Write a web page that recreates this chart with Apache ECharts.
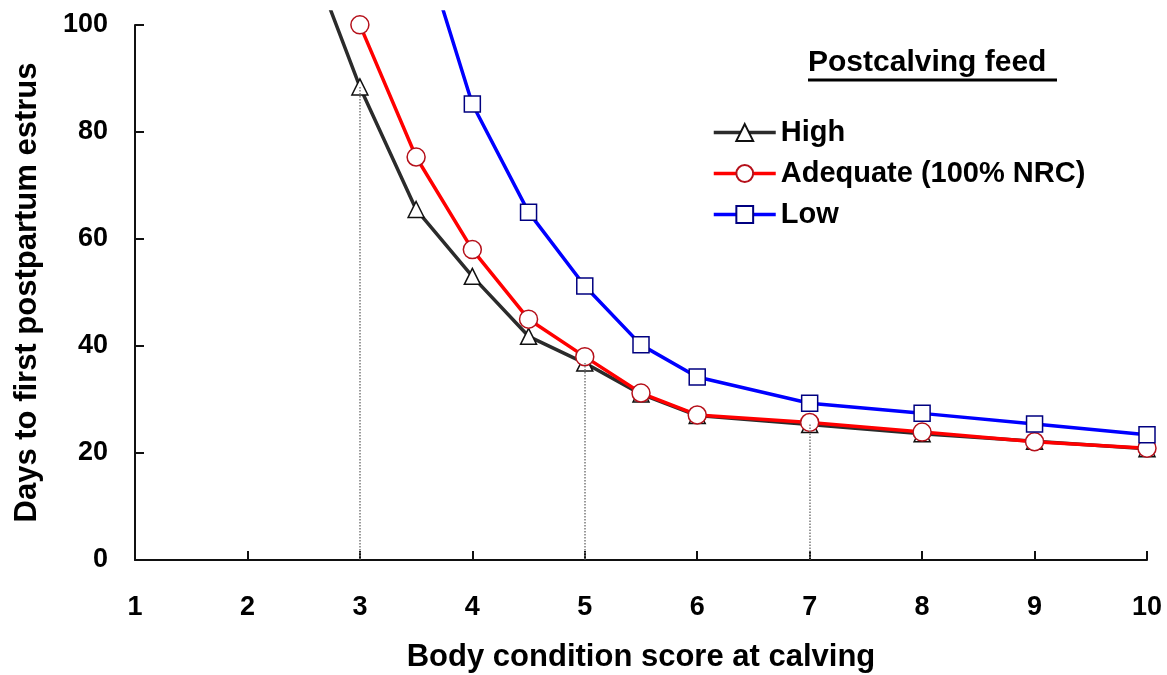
<!DOCTYPE html>
<html>
<head>
<meta charset="utf-8">
<script src="https://cdn.jsdelivr.net/npm/echarts@6/dist/echarts.min.js"></script>
<style>
html,body{margin:0;padding:0;background:#fff;}
#chart{width:1167px;height:675px;}
</style>
</head>
<body>
<div id="chart"></div>
<script>
// Body condition score at calving
var bcs = [2.5, 3, 3.5, 4, 4.5, 5, 5.5, 6, 7, 8, 9, 10];
// Days to first postpartum estrus, by postcalving feed level
var high     = [116, 88.4, 65.5, 53, 41.8, 36.8, 31, 27, 25.3, 23.6, 22.2, 20.8];
var adequate = [null, 100, 75.3, 58, 45, 38, 31.2, 27.1, 25.7, 23.9, 22.1, 20.9];
var low      = [null, null, 119, 85.2, 65, 51.2, 40.2, 34.2, 29.3, 27.4, 25.4, 23.4];
var seriesNames = ['High', 'Adequate (100% NRC)', 'Low'];
var legendTitle = 'Postcalving feed';
var xTitle = 'Body condition score at calving';
var yTitle = 'Days to first postpartum estrus';
var xTicks = [1, 2, 3, 4, 5, 6, 7, 8, 9, 10];
var yTicks = [0, 20, 40, 60, 80, 100];
var dropX = [3, 5, 7];

function pairs(vals) {
  return bcs.map(function (x, i) { return [x, vals[i]]; });
}
var dropLines = dropX.map(function (x) {
  var y = high[bcs.indexOf(x)];
  return [{ coord: [x, y] }, { coord: [x, 0] }];
});

var FONT = '"Liberation Sans", Arial, sans-serif';
var chart = echarts.init(document.getElementById('chart'), null, { renderer: 'canvas' });

var option = {
  animation: false,
  backgroundColor: '#ffffff',
  grid: [
    { left: 135, right: 20, top: 12, bottom: 115, containLabel: false, outerBoundsMode: 'none' },
    { left: 135, right: 20, top: 25, bottom: 115, containLabel: false, outerBoundsMode: 'none' }
  ],
  xAxis: [
    { type: 'value', gridIndex: 0, min: xTicks[0], max: xTicks[xTicks.length - 1], show: false },
    {
      type: 'value', gridIndex: 1, min: xTicks[0], max: xTicks[xTicks.length - 1], interval: 1,
      axisLine: { lineStyle: { color: '#111', width: 2 } },
      axisTick: { inside: true, length: 9, lineStyle: { color: '#111', width: 2 } },
      splitLine: { show: false },
      axisLabel: { color: '#000', fontFamily: FONT, fontWeight: 'bold', fontSize: 27, margin: 34 },
      name: xTitle, nameLocation: 'middle', nameGap: 82,
      nameTextStyle: { color: '#000', fontFamily: FONT, fontWeight: 'bold', fontSize: 31 }
    }
  ],
  yAxis: [
    { type: 'value', gridIndex: 0, min: 0, max: 102.4, show: false },
    {
      type: 'value', gridIndex: 1, min: yTicks[0], max: yTicks[yTicks.length - 1], interval: 20,
      axisLine: { show: true, lineStyle: { color: '#111', width: 2 } },
      axisTick: { show: true, inside: true, length: 9, lineStyle: { color: '#111', width: 2 } },
      splitLine: { show: false },
      axisLabel: { color: '#000', fontFamily: FONT, fontWeight: 'bold', fontSize: 27, margin: 27 },
      name: yTitle, nameLocation: 'middle', nameGap: 92,
      nameTextStyle: { color: '#000', fontFamily: FONT, fontWeight: 'bold', fontSize: 31 }
    }
  ],
  legend: {
    orient: 'vertical', left: 707, top: 112,
    itemWidth: 62, itemHeight: 21, itemGap: 10,
    data: seriesNames,
    lineStyle: { width: 3.5 },
    textStyle: { color: '#000', fontFamily: FONT, fontWeight: 'bold', fontSize: 29, lineHeight: 31 }
  },
  graphic: [
    {
      type: 'text', left: 808, top: 48,
      style: { text: legendTitle, fill: '#000', font: 'bold 30px ' + FONT }
    },
    {
      type: 'line', shape: { x1: 808, y1: 80, x2: 1057, y2: 80 },
      style: { stroke: '#000', lineWidth: 3 }
    }
  ],
  series: [
    {
      name: seriesNames[0], type: 'line', xAxisIndex: 0, yAxisIndex: 0,
      data: pairs(high), clip: true,
      symbol: 'triangle', symbolSize: 16,
      lineStyle: { color: '#2b2b2b', width: 3.5 },
      itemStyle: { color: '#ffffff', borderColor: '#111', borderWidth: 1.5 },
      markLine: {
        silent: true, symbol: 'none', label: { show: false },
        lineStyle: { color: '#7a7a7a', type: 'dotted', width: 1.5 },
        data: dropLines
      },
      z: 2
    },
    {
      name: seriesNames[1], type: 'line', xAxisIndex: 0, yAxisIndex: 0,
      data: pairs(adequate), clip: true, connectNulls: false,
      symbol: 'circle', symbolSize: 18,
      lineStyle: { color: '#ff0000', width: 3.5 },
      itemStyle: { color: '#ffffff', borderColor: '#b5101a', borderWidth: 1.5 },
      z: 3
    },
    {
      name: seriesNames[2], type: 'line', xAxisIndex: 0, yAxisIndex: 0,
      data: pairs(low), clip: true,
      symbol: 'rect', symbolSize: 16,
      lineStyle: { color: '#0000ff', width: 3.5 },
      itemStyle: { color: '#ffffff', borderColor: '#000080', borderWidth: 1.5 },
      z: 4
    }
  ]
};
chart.setOption(option);
</script>
</body>
</html>
